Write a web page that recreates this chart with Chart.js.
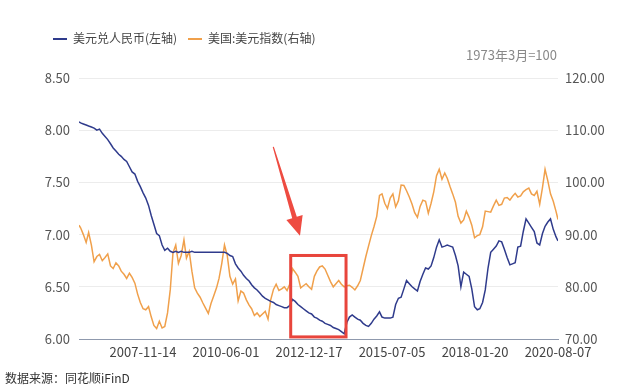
<!DOCTYPE html>
<html>
<head>
<meta charset="utf-8">
<script src="https://cdn.jsdelivr.net/npm/chart.js@4.4.1/dist/chart.umd.min.js"></script>
<style>
  body { margin: 0; background: #fff; }
  #wrap { position: relative; width: 640px; height: 392px; font-family: 'Noto Sans CJK SC', 'Noto Sans', sans-serif; }
  #chart { position: absolute; left: 0; top: 0; }
  .legend-item { position: absolute; top: 30px; height: 16px; line-height: 16px; font-size: 12px; color: #444; white-space: nowrap; }
  .legend-item i { display: inline-block; width: 14px; height: 2px; vertical-align: middle; margin-right: 6px; position: relative; top: -1px; }
  #unit { position: absolute; right: 83px; top: 46px; font-size: 13px; color: #888; line-height: 18px; }
  #source { position: absolute; left: 5px; top: 370px; font-size: 12px; color: #333; line-height: 16px; }
</style>
</head>
<body>
<div id="wrap">
  <canvas id="chart" width="640" height="392"></canvas>
  <div class="legend-item" style="left:53px"><i style="background:#2f3b8c"></i>美元兑人民币(左轴)</div>
  <div class="legend-item" style="left:188px"><i style="background:#f0a04b"></i>美国:美元指数(右轴)</div>
  <div id="unit">1973年3月=100</div>
  <div id="source">数据来源：同花顺iFinD</div>
</div>
<script>
const startDate = '2005-11-27';
const endDate = '2020-08-07';
const tickDates = ['2007-11-14', '2010-06-01', '2012-12-17', '2015-07-05', '2018-01-20', '2020-08-07'];

// start point + 2005-12, then one value per month, last one is 2020-08-07
const usdCny = [
    8.08, 8.07,
    8.06, 8.05, 8.04, 8.03, 8.02, 8.00, 8.01, 7.97, 7.94, 7.91, 7.87, 7.83,
    7.80, 7.77, 7.75, 7.72, 7.70, 7.65, 7.60, 7.58, 7.51, 7.46, 7.40, 7.35,
    7.28, 7.18, 7.10, 7.01, 6.99, 6.90, 6.85, 6.87, 6.84, 6.83, 6.84, 6.83,
    6.84, 6.83, 6.83, 6.83, 6.84, 6.83, 6.83, 6.83, 6.83, 6.83, 6.83, 6.83,
    6.83, 6.83, 6.83, 6.83, 6.83, 6.82, 6.80, 6.79, 6.72, 6.68, 6.65, 6.61,
    6.58, 6.555, 6.52, 6.49, 6.47, 6.44, 6.41, 6.39, 6.375, 6.36, 6.35, 6.33,
    6.32, 6.31, 6.30, 6.30, 6.32, 6.38, 6.36, 6.33, 6.31, 6.29, 6.27, 6.25,
    6.24, 6.21, 6.20, 6.18, 6.17, 6.15, 6.14, 6.13, 6.11, 6.10, 6.09, 6.07,
    6.05, 6.16, 6.21, 6.23, 6.21, 6.19, 6.18, 6.15, 6.13, 6.12, 6.15, 6.19,
    6.22, 6.26, 6.21, 6.20, 6.20, 6.20, 6.21, 6.33, 6.39, 6.40, 6.48, 6.56,
    6.53, 6.50, 6.48, 6.46, 6.55, 6.62, 6.68, 6.67, 6.70, 6.78, 6.88, 6.95,
    6.88, 6.89, 6.90, 6.89, 6.88, 6.80, 6.70, 6.50, 6.64, 6.62, 6.60, 6.48,
    6.31, 6.28, 6.29, 6.35, 6.47, 6.68, 6.83, 6.86, 6.89, 6.94, 6.93, 6.86,
    6.78, 6.71, 6.72, 6.73, 6.88, 6.89, 7.03, 7.15, 7.11, 7.07, 7.03, 6.92,
    6.90, 7.01, 7.08, 7.12, 7.15, 7.05, 6.98, 6.94
];
const dollarIndex = [
    91.8, 91.3,
    90.0, 88.5, 90.4, 88.0, 84.8, 85.8, 86.2, 85.0, 85.6, 86.3, 84.0, 83.5,
    84.6, 84.0, 83.0, 82.4, 81.6, 82.6, 81.8, 80.7, 78.6, 77.0, 75.8, 75.6,
    76.2, 74.2, 72.6, 72.0, 73.4, 72.1, 72.4, 75.0, 79.5, 86.5, 88.0, 84.5,
    86.0, 89.0, 85.5, 86.8, 83.0, 79.8, 78.8, 78.0, 76.9, 75.9, 74.9, 76.8,
    78.3, 79.8, 81.6, 84.5, 88.0, 86.0, 82.0, 80.5, 81.5, 77.3, 79.2, 78.8,
    77.5, 76.5, 75.8, 74.5, 75.0, 74.3, 74.8, 75.3, 73.8, 77.5, 79.5, 80.5,
    79.3, 79.6, 80.0, 79.3, 80.5, 83.5, 82.8, 82.0, 79.8, 80.2, 80.6, 80.0,
    79.5, 82.0, 83.0, 83.8, 84.0, 83.4, 82.2, 81.0, 80.0, 80.6, 81.2, 80.5,
    80.0, 80.2, 80.3, 79.9, 79.4, 80.2, 81.2, 83.5, 85.8, 87.8, 89.8, 91.5,
    93.5, 97.5, 97.8, 96.0, 95.0, 97.0, 97.8, 95.3, 96.5, 99.5, 99.4, 98.4,
    97.2, 95.8, 94.2, 93.3, 95.4, 96.6, 96.4, 94.1, 96.0, 98.2, 101.3, 102.5,
    100.6, 101.8, 100.8, 99.2, 97.8, 96.2, 93.5, 92.2, 92.8, 94.5, 93.3, 91.8,
    89.4, 89.8, 90.0, 91.5, 94.5, 94.4, 94.3, 95.5, 96.6, 95.6, 95.8, 97.0,
    97.1, 96.6, 97.3, 97.9, 97.2, 97.4, 98.2, 98.6, 98.9, 97.8, 97.5, 98.3,
    95.8, 99.0, 102.5, 100.3, 97.8, 96.4, 94.5, 92.9
];

const toMs = s => { const [y, m, d] = s.split('-').map(Number); return Date.UTC(y, m - 1, d); };
const pad = n => String(n).padStart(2, '0');

const dates = [startDate];
for (let y = 2005, m = 12; y < 2020 || (y === 2020 && m <= 7);) {
    dates.push(`${y}-${pad(m)}-15`);
    m++;
    if (m > 12) { m = 1; y++; }
}
dates.push(endDate);

// red highlight box and arrow, in data units
const boxRange = { from: '2012-05-26', to: '2014-02-05', low: 6.02, high: 6.80 };
const arrowTail = { date: '2011-11-13', value: 7.84 };
const arrowTip = { date: '2012-09-07', value: 6.99 };

const highlightPlugin = {
    id: 'highlight',
    afterDatasetsDraw(chart) {
        const { ctx, scales: { x, y } } = chart;
        ctx.save();
        const x1 = x.getPixelForValue(toMs(boxRange.from));
        const x2 = x.getPixelForValue(toMs(boxRange.to));
        const y1 = y.getPixelForValue(boxRange.high);
        const y2 = y.getPixelForValue(boxRange.low);
        ctx.strokeStyle = '#e8453c';
        ctx.lineWidth = 3;
        ctx.strokeRect(x1, y1, x2 - x1, y2 - y1);

        const tx = x.getPixelForValue(toMs(arrowTail.date)), ty = y.getPixelForValue(arrowTail.value);
        const px = x.getPixelForValue(toMs(arrowTip.date)), py = y.getPixelForValue(arrowTip.value);
        const len = Math.hypot(px - tx, py - ty);
        const ux = (px - tx) / len, uy = (py - ty) / len;
        const nx = -uy, ny = ux;
        const headLen = 19, headHalf = 8.5;
        const bx = px - ux * headLen, by = py - uy * headLen;
        ctx.fillStyle = '#ee4b41';
        ctx.beginPath();
        ctx.moveTo(tx + nx * 0.6, ty + ny * 0.6);
        ctx.lineTo(bx + nx * 2.4, by + ny * 2.4);
        ctx.lineTo(bx + nx * headHalf, by + ny * headHalf);
        ctx.lineTo(px, py);
        ctx.lineTo(bx - nx * headHalf, by - ny * headHalf);
        ctx.lineTo(bx - nx * 2.4, by - ny * 2.4);
        ctx.lineTo(tx - nx * 0.6, ty - ny * 0.6);
        ctx.closePath();
        ctx.fill();
        ctx.restore();
    }
};

Chart.defaults.font.family = "'Noto Sans CJK SC', 'Noto Sans', sans-serif";

new Chart(document.getElementById('chart'), {
    type: 'line',
    data: {
        datasets: [{
            label: '美元兑人民币(左轴)',
            data: dates.map((d, i) => ({ x: toMs(d), y: usdCny[i] })),
            borderColor: '#2f3b8c',
            borderWidth: 1.5,
            pointRadius: 0,
            yAxisID: 'y'
        }, {
            label: '美国:美元指数(右轴)',
            data: dates.map((d, i) => ({ x: toMs(d), y: dollarIndex[i] })),
            borderColor: '#f0a04b',
            borderWidth: 1.5,
            pointRadius: 0,
            yAxisID: 'y1'
        }]
    },
    options: {
        responsive: false,
        animation: false,
        devicePixelRatio: 1,
        layout: { padding: { top: 78, left: 0, right: 0, bottom: 0 } },
        plugins: { legend: { display: false }, tooltip: { enabled: false } },
        scales: {
            x: {
                type: 'linear',
                min: toMs(startDate),
                max: toMs(endDate),
                afterBuildTicks: s => { s.ticks = tickDates.map(d => ({ value: toMs(d) })); },
                afterFit: s => { s.height = 53; },
                grid: { display: false, drawTicks: false },
                border: { display: true, color: '#8f99ad', width: 1 },
                ticks: {
                    autoSkip: false,
                    maxRotation: 0,
                    padding: 5,
                    color: '#444',
                    font: { size: 13 },
                    callback: v => new Date(v).toISOString().slice(0, 10)
                }
            },
            y: {
                position: 'left',
                min: 6,
                max: 8.5,
                afterFit: s => { s.width = 79; },
                grid: { color: '#ececec', drawTicks: false },
                border: { display: false },
                ticks: { stepSize: 0.5, padding: 9, color: '#555', font: { size: 13 }, callback: v => v.toFixed(2) }
            },
            y1: {
                position: 'right',
                min: 70,
                max: 120,
                afterFit: s => { s.width = 82; },
                grid: { drawOnChartArea: false, drawTicks: false },
                border: { display: false },
                ticks: { stepSize: 10, padding: 7, color: '#555', font: { size: 13 }, callback: v => v.toFixed(2) }
            }
        }
    },
    plugins: [highlightPlugin]
});
</script>
</body>
</html>
